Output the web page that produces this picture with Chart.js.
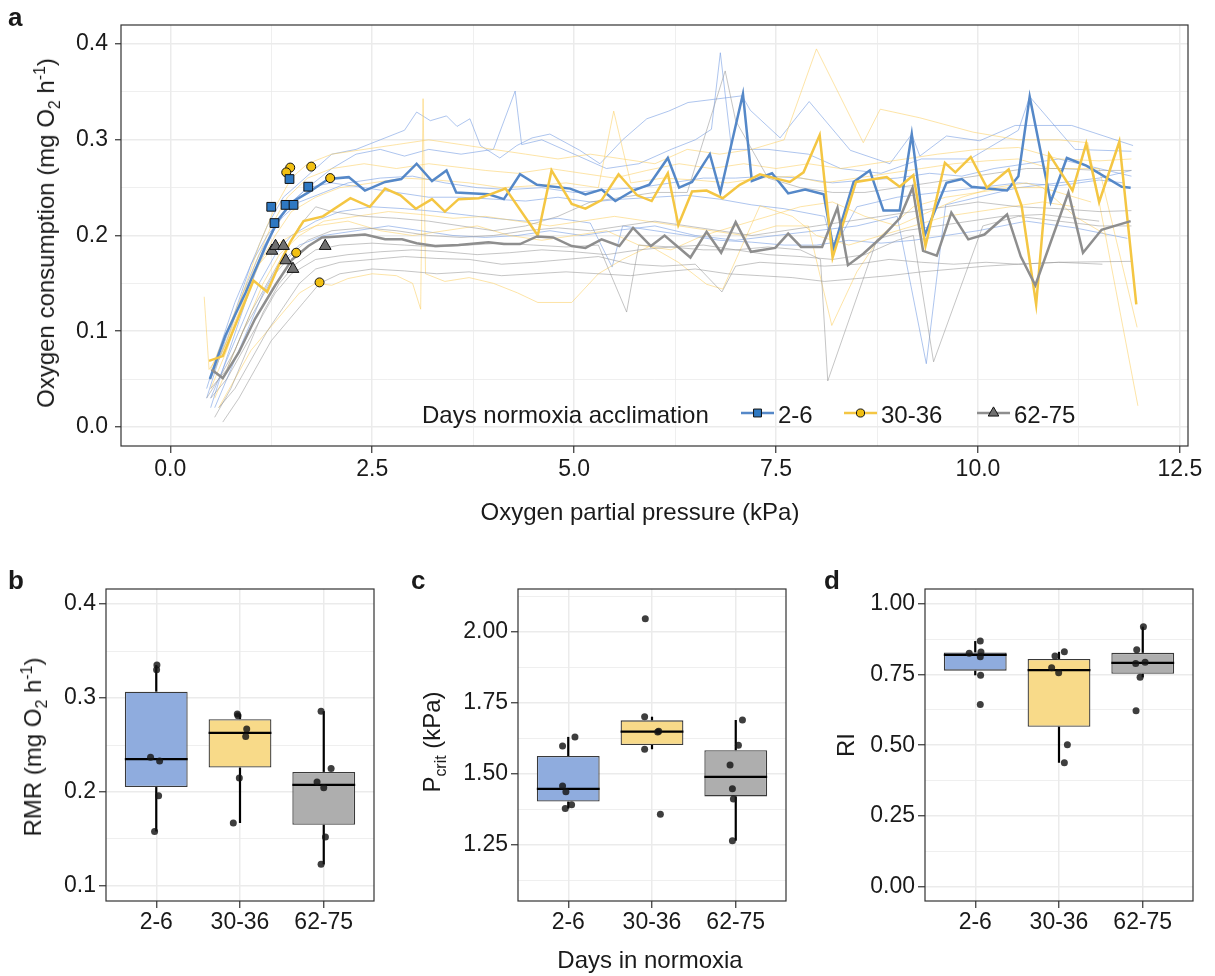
<!DOCTYPE html>
<html>
<head>
<meta charset="utf-8">
<script src="https://cdn.jsdelivr.net/npm/chart.js@4.4.1/dist/chart.umd.min.js"></script>
<style>
  body { margin: 0; background: #fff; font-family: "Liberation Sans", Arial, sans-serif; color: #1a1a1a; }
  #fig { position: relative; width: 1215px; height: 976px; overflow: hidden; }
  .chart { position: absolute; }
  .lbl { position: absolute; font-weight: bold; font-size: 26px; line-height: 1; }
  .ttl { position: absolute; font-size: 24px; line-height: 1; white-space: nowrap; transform: translate(-50%, -50%); }
  .ttl.rot { transform: translate(-50%, -50%) rotate(-90deg); }
  sub, sup { font-size: 0.66em; line-height: 0; }
</style>
</head>
<body>
<div id="fig">
  <div class="chart" style="left:0;top:0;width:1215px;height:500px"><canvas id="chartA"></canvas></div>
  <div class="chart" style="left:0;top:560px;width:400px;height:400px"><canvas id="chartB"></canvas></div>
  <div class="chart" style="left:400px;top:560px;width:400px;height:400px"><canvas id="chartC"></canvas></div>
  <div class="chart" style="left:800px;top:560px;width:415px;height:400px"><canvas id="chartD"></canvas></div>

  <div class="lbl" style="left:8px;top:4px">a</div>
  <div class="lbl" style="left:8px;top:567px">b</div>
  <div class="lbl" style="left:411px;top:567px">c</div>
  <div class="lbl" style="left:824px;top:567px">d</div>

  <div class="ttl rot" style="left:46px;top:233px">Oxygen consumption (mg O<sub>2</sub> h<sup>-1</sup>)</div>
  <div class="ttl" style="left:640px;top:512px">Oxygen partial pressure (kPa)</div>
  <div class="ttl rot" style="left:33px;top:747px">RMR (mg O<sub>2</sub> h<sup>-1</sup>)</div>
  <div class="ttl rot" style="left:432px;top:742px">P<sub>crit</sub> (kPa)</div>
  <div class="ttl rot" style="left:846px;top:745px">RI</div>
  <div class="ttl" style="left:650px;top:960px">Days in normoxia</div>
</div>

<script>
// ---- data --------------------------------------------------------------
const groups = ['2-6', '30-36', '62-75'];

// panel a: mean traces per group [kPa, mg O2 h-1]
const meanBlue = [[0.49,0.050],[0.68,0.095],[0.93,0.140],[1.18,0.189],[1.34,0.217],[1.51,0.235],[1.71,0.245],[1.96,0.259],[2.21,0.261],[2.41,0.247],[2.66,0.256],[2.86,0.259],[3.05,0.275],[3.24,0.257],[3.42,0.268],[3.54,0.245],[3.94,0.243],[4.13,0.238],[4.33,0.264],[4.54,0.253],[4.95,0.249],[5.14,0.243],[5.34,0.248],[5.51,0.236],[5.73,0.247],[5.93,0.253],[6.16,0.281],[6.30,0.250],[6.46,0.256],[6.68,0.285],[6.81,0.245],[7.09,0.348],[7.20,0.257],[7.45,0.265],[7.65,0.244],[7.86,0.248],[8.09,0.243],[8.21,0.186],[8.46,0.256],[8.66,0.268],[8.83,0.226],[9.03,0.226],[9.18,0.306],[9.34,0.200],[9.61,0.255],[9.80,0.259],[9.92,0.251],[10.36,0.247],[10.50,0.262],[10.64,0.345],[10.90,0.235],[11.10,0.281],[11.34,0.273],[11.78,0.251],[11.89,0.250]];
const meanYellow = [[0.48,0.069],[0.65,0.074],[1.03,0.153],[1.20,0.141],[1.34,0.168],[1.49,0.194],[1.65,0.215],[1.89,0.220],[2.23,0.239],[2.47,0.230],[2.66,0.249],[2.85,0.242],[3.04,0.228],[3.24,0.238],[3.40,0.225],[3.57,0.238],[3.82,0.239],[3.96,0.243],[4.15,0.249],[4.55,0.200],[4.72,0.268],[4.97,0.233],[5.14,0.228],[5.34,0.237],[5.55,0.264],[5.78,0.242],[5.96,0.236],[6.16,0.265],[6.29,0.211],[6.46,0.246],[6.64,0.247],[6.84,0.239],[7.05,0.253],[7.30,0.264],[7.48,0.260],[7.67,0.256],[7.84,0.266],[8.04,0.305],[8.20,0.177],[8.49,0.256],[8.87,0.261],[9.03,0.251],[9.20,0.263],[9.35,0.189],[9.59,0.276],[9.72,0.266],[9.91,0.282],[10.11,0.250],[10.38,0.269],[10.54,0.231],[10.72,0.128],[10.88,0.285],[11.17,0.247],[11.34,0.296],[11.50,0.235],[11.75,0.298],[11.96,0.128]];
const meanGray = [[0.51,0.060],[0.65,0.051],[0.85,0.078],[1.05,0.113],[1.30,0.148],[1.51,0.175],[1.71,0.189],[1.88,0.198],[2.08,0.199],[2.41,0.201],[2.66,0.196],[2.87,0.196],[3.05,0.192],[3.28,0.189],[3.57,0.190],[3.94,0.193],[4.13,0.191],[4.33,0.191],[4.54,0.199],[4.74,0.198],[4.97,0.189],[5.14,0.187],[5.34,0.196],[5.56,0.189],[5.73,0.208],[5.95,0.189],[6.12,0.200],[6.44,0.177],[6.64,0.204],[6.82,0.182],[7.00,0.214],[7.19,0.183],[7.49,0.187],[7.65,0.202],[7.81,0.188],[8.07,0.188],[8.26,0.229],[8.39,0.169],[8.58,0.181],[8.83,0.200],[9.03,0.218],[9.19,0.250],[9.32,0.184],[9.49,0.179],[9.67,0.224],[9.88,0.196],[10.08,0.201],[10.36,0.222],[10.53,0.178],[10.71,0.148],[11.12,0.245],[11.30,0.182],[11.53,0.206],[11.89,0.215]];

// panel a: individual traces
const blueInd1 = [[0.45,0.03],[0.6,0.07],[0.8,0.12],[1.0,0.17],[1.2,0.21],[1.4,0.24],[1.6,0.255],[1.8,0.27],[2.0,0.285],[2.3,0.29],[2.6,0.3],[2.9,0.31],[3.05,0.329],[3.22,0.32],[3.42,0.325],[3.55,0.314],[3.71,0.322],[3.84,0.294],[4.08,0.281],[4.29,0.294],[4.48,0.302],[4.7,0.306],[5.07,0.289],[5.32,0.275],[5.6,0.3],[5.9,0.322],[6.17,0.33],[6.41,0.339],[7.08,0.346],[7.18,0.331],[7.55,0.302],[7.91,0.34],[8.42,0.289],[8.91,0.275],[9.18,0.306],[9.28,0.283],[9.61,0.304],[10.02,0.299],[10.46,0.315],[11.16,0.315],[11.92,0.294]];
const blueInd2 = [[0.5,0.02],[0.65,0.06],[0.85,0.11],[1.05,0.16],[1.25,0.2],[1.45,0.23],[1.7,0.25],[2.0,0.27],[2.3,0.285],[2.6,0.29],[2.9,0.283],[3.2,0.29],[3.6,0.285],[4.0,0.29],[4.27,0.351],[4.35,0.295],[4.6,0.3],[5.0,0.285],[5.4,0.27],[5.8,0.275],[6.2,0.29],[6.5,0.3],[6.7,0.311],[6.81,0.391],[6.95,0.29],[7.4,0.29],[7.9,0.285],[8.3,0.27],[8.8,0.265],[9.3,0.28],[9.9,0.28],[10.5,0.31],[10.64,0.345],[11.2,0.29],[11.9,0.288]];
const blueInd3 = [[0.45,0.04],[0.6,0.08],[0.8,0.13],[1.0,0.17],[1.2,0.2],[1.4,0.22],[1.6,0.235],[1.9,0.245],[2.2,0.255],[2.6,0.26],[3.0,0.262],[3.4,0.255],[3.8,0.25],[4.2,0.248],[4.6,0.25],[5.0,0.245],[5.4,0.248],[5.8,0.25],[6.2,0.255],[6.6,0.26],[7.0,0.26],[7.4,0.262],[7.8,0.26],[8.2,0.255],[8.6,0.258],[9.0,0.26],[9.4,0.265],[9.8,0.262],[10.2,0.27],[10.6,0.275],[11.0,0.28],[11.5,0.27],[11.9,0.262]];
const blueInd4 = [[0.5,0.03],[0.7,0.07],[0.9,0.11],[1.1,0.15],[1.3,0.18],[1.5,0.2],[1.8,0.215],[2.1,0.225],[2.5,0.23],[2.9,0.228],[3.3,0.225],[3.6,0.222],[4.0,0.218],[4.4,0.215],[4.8,0.218],[5.2,0.213],[5.47,0.167],[5.6,0.21],[6.0,0.205],[6.4,0.2],[6.8,0.195],[7.2,0.193],[7.6,0.19],[8.0,0.19],[8.4,0.195],[8.8,0.192],[9.2,0.195],[9.6,0.2],[10.0,0.205],[10.6,0.215],[11.2,0.208],[11.85,0.197]];
const blueInd5 = [[0.55,0.02],[0.75,0.06],[0.95,0.1],[1.15,0.14],[1.35,0.17],[1.6,0.19],[1.9,0.2],[2.3,0.205],[2.7,0.21],[3.1,0.205],[3.5,0.2],[3.9,0.198],[4.3,0.2],[4.7,0.205],[5.1,0.2],[5.5,0.205],[6.0,0.21],[6.5,0.2],[7.0,0.195],[7.5,0.2],[8.0,0.205],[8.5,0.21],[9.0,0.22],[9.36,0.066],[9.6,0.232],[10.0,0.24],[10.5,0.25],[11.0,0.255],[11.5,0.26],[11.9,0.268]];
const blueInd6 = [[0.5,0.05],[0.7,0.09],[0.9,0.14],[1.1,0.18],[1.3,0.21],[1.5,0.235],[1.7,0.25],[2.0,0.255],[2.4,0.25],[2.8,0.245],[3.2,0.24],[3.6,0.24],[4.0,0.238],[4.4,0.236],[4.8,0.24],[5.2,0.235],[5.6,0.238],[6.0,0.24],[6.4,0.242],[6.8,0.238],[7.2,0.232],[7.6,0.228],[8.1,0.22],[8.21,0.185],[8.5,0.23],[9.0,0.24],[9.5,0.245],[10.0,0.25],[10.5,0.255],[11.0,0.252],[11.5,0.258],[11.8,0.255]];

const yellowInd1 = [[0.5,0.05],[0.7,0.09],[0.9,0.14],[1.1,0.19],[1.3,0.23],[1.5,0.26],[1.7,0.275],[2.0,0.285],[2.4,0.29],[2.8,0.295],[3.2,0.3],[3.6,0.295],[4.0,0.29],[4.4,0.285],[4.8,0.28],[5.2,0.285],[5.6,0.28],[6.0,0.275],[6.4,0.29],[6.8,0.285],[7.2,0.29],[7.6,0.3],[8.0,0.395],[8.58,0.297],[8.79,0.332],[9.28,0.323],[9.94,0.308],[10.5,0.3],[11.0,0.3],[11.36,0.297],[11.98,0.022]];
const yellowInd2 = [[0.42,0.136],[0.48,0.06],[0.65,0.08],[0.85,0.12],[1.05,0.17],[1.25,0.21],[1.45,0.24],[1.7,0.26],[2.0,0.27],[2.4,0.275],[2.8,0.27],[3.2,0.275],[3.5,0.272],[3.9,0.268],[4.3,0.265],[4.7,0.27],[5.1,0.265],[5.5,0.26],[5.9,0.268],[6.3,0.275],[6.7,0.27],[7.1,0.275],[7.5,0.27],[7.9,0.275],[8.3,0.27],[8.7,0.275],[9.1,0.28],[9.5,0.285],[10.0,0.29],[10.5,0.292],[11.0,0.28],[11.5,0.278],[11.9,0.28]];
const yellowInd3 = [[0.5,0.04],[0.7,0.08],[0.9,0.13],[1.1,0.17],[1.3,0.2],[1.5,0.225],[1.8,0.24],[2.1,0.25],[2.5,0.255],[2.9,0.26],[3.3,0.258],[3.7,0.255],[4.1,0.25],[4.5,0.252],[4.9,0.255],[5.3,0.25],[5.49,0.33],[5.7,0.255],[6.1,0.26],[6.5,0.258],[6.9,0.255],[7.3,0.26],[7.7,0.262],[8.1,0.255],[8.5,0.26],[8.9,0.265],[9.3,0.27],[9.7,0.275],[10.1,0.278],[10.5,0.28],[10.9,0.27],[11.5,0.27],[11.97,0.104]];
const yellowInd4 = [[0.55,0.03],[0.75,0.07],[0.95,0.11],[1.15,0.15],[1.35,0.18],[1.6,0.2],[1.9,0.215],[2.3,0.22],[2.7,0.225],[3.1,0.222],[3.5,0.218],[3.9,0.22],[4.3,0.215],[4.7,0.21],[5.1,0.215],[5.5,0.22],[5.9,0.215],[6.3,0.21],[6.7,0.205],[7.1,0.2],[7.5,0.21],[7.9,0.21],[8.19,0.106],[8.5,0.162],[8.8,0.2],[9.2,0.23],[9.6,0.24],[10.0,0.245],[10.4,0.25],[10.8,0.25],[11.2,0.22],[11.6,0.2]];
const yellowInd5 = [[0.6,0.02],[0.8,0.05],[1.0,0.08],[1.2,0.1],[1.4,0.12],[1.6,0.14],[1.8,0.15],[2.0,0.148],[2.2,0.155],[2.5,0.16],[2.8,0.158],[3.0,0.15],[3.1,0.123],[3.13,0.343],[3.16,0.16],[3.4,0.152],[3.7,0.156],[4.0,0.15],[4.3,0.14],[4.55,0.13],[4.97,0.13],[5.3,0.16],[5.6,0.175],[5.94,0.189],[6.29,0.172],[6.64,0.149],[6.84,0.144],[7.3,0.231],[7.7,0.22],[8.0,0.2],[8.4,0.19],[8.8,0.2],[9.2,0.21],[9.6,0.22],[10.0,0.225],[10.4,0.23],[10.8,0.235],[11.2,0.23]];
const yellowInd6 = [[0.5,0.06],[0.7,0.1],[0.9,0.14],[1.1,0.17],[1.3,0.19],[1.5,0.2],[1.8,0.21],[2.2,0.215],[2.6,0.205],[3.0,0.2],[3.4,0.205],[3.8,0.21],[4.2,0.2],[4.6,0.195],[5.0,0.2],[5.4,0.205],[5.8,0.19],[6.2,0.185],[6.6,0.2],[7.0,0.21],[7.4,0.22],[7.8,0.23],[8.2,0.235],[8.6,0.22],[9.0,0.21],[9.4,0.225],[9.8,0.24],[10.2,0.25],[10.6,0.255],[11.0,0.245],[11.4,0.235]];

const grayInd1 = [[0.45,0.03],[0.6,0.05],[0.8,0.08],[1.0,0.12],[1.2,0.15],[1.4,0.18],[1.6,0.21],[1.8,0.23],[2.0,0.225],[2.4,0.22],[2.8,0.218],[3.2,0.215],[3.6,0.21],[4.0,0.205],[4.4,0.21],[4.8,0.22],[5.2,0.235],[5.6,0.24],[6.0,0.245],[6.4,0.245],[6.87,0.372],[7.0,0.32],[7.4,0.26],[7.8,0.25],[8.2,0.245],[8.6,0.245],[9.0,0.25],[9.4,0.255],[9.8,0.26],[10.2,0.265],[10.6,0.27],[11.0,0.27],[11.5,0.268],[11.9,0.268]];
const grayInd2 = [[0.5,0.04],[0.7,0.06],[0.9,0.1],[1.1,0.13],[1.3,0.16],[1.5,0.18],[1.7,0.195],[2.0,0.205],[2.4,0.208],[2.8,0.205],[3.2,0.2],[3.6,0.198],[4.0,0.2],[4.4,0.205],[4.8,0.208],[5.2,0.205],[5.6,0.21],[6.0,0.215],[6.4,0.21],[6.8,0.205],[7.2,0.2],[7.6,0.205],[8.0,0.21],[8.4,0.215],[8.8,0.22],[9.2,0.225],[9.6,0.23],[10.0,0.235],[10.5,0.23],[11.0,0.228],[11.5,0.225],[11.9,0.226]];
const grayInd3 = [[0.55,0.01],[0.75,0.04],[0.95,0.08],[1.15,0.12],[1.35,0.15],[1.55,0.17],[1.8,0.185],[2.1,0.19],[2.5,0.192],[2.9,0.19],[3.3,0.188],[3.7,0.19],[4.1,0.192],[4.5,0.19],[4.9,0.188],[5.3,0.19],[5.65,0.12],[5.8,0.19],[6.2,0.188],[6.6,0.185],[7.0,0.185],[7.4,0.188],[7.8,0.185],[8.05,0.175],[8.14,0.048],[8.75,0.196],[9.1,0.205],[9.5,0.21],[9.9,0.215],[10.3,0.22],[10.8,0.222],[11.5,0.215]];
const grayInd4 = [[0.5,0.03],[0.7,0.05],[0.9,0.08],[1.1,0.11],[1.3,0.14],[1.5,0.16],[1.8,0.175],[2.2,0.18],[2.6,0.183],[3.0,0.185],[3.4,0.183],[3.8,0.18],[4.2,0.182],[4.6,0.185],[5.0,0.183],[5.4,0.18],[5.8,0.185],[6.2,0.188],[6.6,0.19],[7.0,0.185],[7.4,0.18],[7.8,0.178],[8.2,0.175],[8.6,0.18],[9.0,0.195],[9.2,0.2],[9.45,0.068],[10.06,0.21],[10.5,0.22],[11.0,0.215],[11.5,0.21],[11.9,0.21]];
const grayInd5 = [[0.6,0.02],[0.8,0.04],[1.0,0.07],[1.2,0.1],[1.4,0.125],[1.6,0.15],[1.8,0.165],[2.1,0.172],[2.5,0.175],[2.9,0.178],[3.3,0.176],[3.7,0.175],[4.1,0.17],[4.5,0.172],[4.9,0.175],[5.3,0.178],[5.7,0.17],[6.1,0.168],[6.5,0.17],[6.83,0.141],[7.0,0.168],[7.3,0.172],[7.7,0.17],[8.1,0.168],[8.5,0.17],[8.9,0.175],[9.3,0.172],[9.7,0.17],[10.1,0.172],[10.5,0.17],[11.0,0.172],[11.54,0.17]];
const grayInd6 = [[0.65,0.005],[0.85,0.03],[1.05,0.06],[1.25,0.09],[1.45,0.11],[1.65,0.13],[1.85,0.15],[2.1,0.16],[2.5,0.165],[2.9,0.163],[3.3,0.16],[3.7,0.162],[4.1,0.158],[4.5,0.16],[4.9,0.162],[5.3,0.16],[5.7,0.158],[6.1,0.162],[6.5,0.165],[6.9,0.16],[7.3,0.158],[7.7,0.156],[8.1,0.152],[8.5,0.155],[8.9,0.158],[9.3,0.162],[9.7,0.165],[10.1,0.168],[10.5,0.17],[11.0,0.172],[11.9,0.173]];

// panel a: Pcrit points [kPa, mg O2 h-1]
const pcritPtsBlue = [[1.25,0.230],[1.29,0.213],[1.427,0.232],[1.526,0.232],[1.476,0.259],[1.708,0.251]];
const pcritPtsYellow = [[1.485,0.271],[1.436,0.266],[1.745,0.272],[1.98,0.260],[1.559,0.182],[1.848,0.151]];
const pcritPtsGray = [[1.259,0.184],[1.303,0.189],[1.402,0.189],[1.43,0.174],[1.519,0.165],[1.918,0.189]];

// panels b-d: individual values per group and horizontal jitter (in category units)
const rmr = [[0.335,0.330,0.237,0.233,0.196,0.158],[0.283,0.281,0.267,0.259,0.215,0.167],[0.286,0.225,0.2105,0.2045,0.152,0.123]];
const rmrJitter = [[0.008,0.004,-0.068,0.04,0.028,-0.02],[-0.032,-0.024,0.08,0.068,-0.008,-0.08],[-0.032,0.088,-0.08,0,0.02,-0.032]];
const pcrit = [[1.457,1.4375,1.630,1.598,1.391,1.378],[2.045,1.701,1.650,1.647,1.5865,1.358],[1.6895,1.6005,1.531,1.448,1.4117,1.265]];
const pcritJitter = [[-0.068,-0.028,0.08,-0.068,0.04,-0.036],[-0.08,-0.088,0.08,0.068,-0.088,0.1],[0.08,0.032,-0.068,-0.04,-0.028,-0.04]];
const ri = [[0.868,0.825,0.829,0.813,0.747,0.644],[0.830,0.815,0.774,0.756,0.502,0.438],[0.919,0.8375,0.789,0.793,0.740,0.622]];
const riJitter = [[0.06,-0.072,0.068,0.06,0.064,0.06],[0.064,-0.048,-0.088,-0.004,0.1,0.064],[0.008,-0.072,-0.084,0.028,-0.032,-0.08]];

// ---- styling -----------------------------------------------------------
const FONT = '"Liberation Sans", Arial, sans-serif';
const TEXT = '#1a1a1a';
const GRID = '#ebebeb';
const AXIS = '#333333';
const MEAN_COL = ['#5588c8', '#f4c643', '#8e8e8e'];
const THIN_COL = ['rgba(120,158,226,0.6)', 'rgba(252,205,95,0.55)', 'rgba(150,150,150,0.55)'];
const MARK_COL = ['#2e78c2', '#f2c012', '#707070'];
const MARK_STYLE = ['rect', 'circle', 'triangle'];
const MARK_RAD = [6.2, 4.5, 6.8];
const BOX_COL = ['#8facde', '#f8da89', '#aeaeae'];
const BOX_HALF = 0.375;

Chart.defaults.font.family = FONT;
Chart.defaults.color = TEXT;

const pts = arr => arr.map(([x, y]) => ({ x, y }));
const isMult = (v, step) => Math.abs(v / step - Math.round(v / step)) < 1e-6;

// full panel border like theme_bw
const frame = {
  id: 'frame',
  afterDraw(chart) {
    const { ctx, chartArea: a } = chart;
    ctx.save();
    ctx.strokeStyle = AXIS;
    ctx.lineWidth = 1.2;
    ctx.strokeRect(a.left, a.top, a.right - a.left, a.bottom - a.top);
    ctx.restore();
  }
};

function valueAxis(min, max, step, labelStep, digits, opts) {
  return {
    type: 'linear', min, max, offset: false, beginAtZero: false,
    border: { display: false },
    grid: {
      offset: false,
      color: GRID,
      lineWidth: c => (c.tick && isMult(c.tick.value, labelStep)) ? 1.5 : 0.8,
      tickColor: c => (c.tick && isMult(c.tick.value, labelStep)) ? AXIS : 'rgba(0,0,0,0)',
      tickLength: opts.tickLength, tickWidth: 1.2
    },
    ticks: {
      stepSize: step, includeBounds: false, autoSkip: false, maxRotation: 0,
      padding: opts.padding, font: { size: 23 }, color: TEXT,
      callback: v => isMult(v, labelStep) ? v.toFixed(digits) : ''
    },
    afterFit: s => {
      if (opts.width) s.width = opts.width;
      if (opts.height) s.height = opts.height;
      s.paddingLeft = 0; s.paddingRight = 0; s.paddingTop = 0; s.paddingBottom = 0;
    }
  };
}

// legend inside panel a
function drawMarker(ctx, style, x, y, r) {
  ctx.beginPath();
  if (style === 'rect') {
    const s = r * Math.SQRT1_2;
    ctx.rect(x - s, y - s, 2 * s, 2 * s);
  } else if (style === 'circle') {
    ctx.arc(x, y, r, 0, Math.PI * 2);
  } else {
    for (let k = 0; k < 3; k++) {
      const ang = k * 2 * Math.PI / 3;
      const px = x + Math.sin(ang) * r, py = y - Math.cos(ang) * r;
      k === 0 ? ctx.moveTo(px, py) : ctx.lineTo(px, py);
    }
    ctx.closePath();
  }
  ctx.fill();
  ctx.stroke();
}

const legendA = {
  id: 'legendA',
  afterDraw(chart) {
    const { ctx, chartArea: a } = chart;
    const base = a.bottom - 23;
    const mid = a.bottom - 33;
    ctx.save();
    ctx.font = '24px ' + FONT;
    ctx.fillStyle = TEXT;
    ctx.textBaseline = 'alphabetic';
    ctx.fillText('Days normoxia acclimation', a.left + 301, base);
    const starts = [620, 723, 856];
    groups.forEach((g, i) => {
      const x0 = a.left + starts[i];
      ctx.strokeStyle = MEAN_COL[i];
      ctx.lineWidth = 2.5;
      ctx.beginPath(); ctx.moveTo(x0, mid); ctx.lineTo(x0 + 33, mid); ctx.stroke();
      ctx.fillStyle = MARK_COL[i];
      ctx.strokeStyle = '#111';
      ctx.lineWidth = 1;
      drawMarker(ctx, MARK_STYLE[i], x0 + 16.5, mid, MARK_RAD[i] * 0.9);
      ctx.fillStyle = TEXT;
      ctx.fillText(g, x0 + 37, base);
    });
    ctx.restore();
  }
};

// ---- panel a ---------------------------------------------------------------
function thin(data, i) {
  return { data: pts(data), showLine: true, borderColor: THIN_COL[i], borderWidth: 1, pointRadius: 0, order: 3 };
}
function mean(data, i) {
  return { data: pts(data), showLine: true, borderColor: MEAN_COL[i], borderWidth: 2.5, pointRadius: 0, order: 2 };
}
function marks(data, i) {
  return {
    data: pts(data), showLine: false, pointStyle: MARK_STYLE[i], pointRadius: MARK_RAD[i],
    pointBackgroundColor: MARK_COL[i], pointBorderColor: '#111', pointBorderWidth: 1, order: 1
  };
}

new Chart(document.getElementById('chartA'), {
  type: 'scatter',
  data: {
    datasets: [
      marks(pcritPtsBlue, 0), marks(pcritPtsYellow, 1), marks(pcritPtsGray, 2),
      mean(meanGray, 2), mean(meanYellow, 1), mean(meanBlue, 0),
      thin(grayInd1, 2), thin(grayInd2, 2), thin(grayInd3, 2), thin(grayInd4, 2), thin(grayInd5, 2), thin(grayInd6, 2),
      thin(yellowInd1, 1), thin(yellowInd2, 1), thin(yellowInd3, 1), thin(yellowInd4, 1), thin(yellowInd5, 1), thin(yellowInd6, 1),
      thin(blueInd1, 0), thin(blueInd2, 0), thin(blueInd3, 0), thin(blueInd4, 0), thin(blueInd5, 0), thin(blueInd6, 0)
    ]
  },
  options: {
    responsive: true, maintainAspectRatio: false, animation: false, events: [],
    layout: { padding: { top: 25, right: 27, bottom: 14, left: 0 } },
    plugins: { legend: { display: false }, tooltip: { enabled: false } },
    scales: {
      x: valueAxis(-0.61, 12.6, 1.25, 2.5, 1, { tickLength: 7, padding: 3, height: 40 }),
      y: valueAxis(-0.02, 0.42, 0.05, 0.1, 1, { tickLength: 6, padding: 7, width: 121 })
    }
  },
  plugins: [frame, legendA]
});

// ---- panels b-d: box plots -----------------------------------------------
function quantile(sorted, p) {
  const h = (sorted.length - 1) * p;
  const lo = Math.floor(h);
  const hi = Math.min(lo + 1, sorted.length - 1);
  return sorted[lo] + (h - lo) * (sorted[hi] - sorted[lo]);
}
function boxStats(values) {
  const s = values.slice().sort((a, b) => a - b);
  const q1 = quantile(s, 0.25), med = quantile(s, 0.5), q3 = quantile(s, 0.75);
  const iqr = q3 - q1;
  const inside = s.filter(v => v >= q1 - 1.5 * iqr && v <= q3 + 1.5 * iqr);
  return { q1, med, q3, lo: inside[0], hi: inside[inside.length - 1] };
}

function boxPanel(id, values, jitter, yMin, yMax, step, labelStep, digits, yWidth, padRight) {
  const stats = values.map(boxStats);
  const datasets = [{
    data: values.flatMap((vs, i) => vs.map((v, j) => ({ x: i + 1 + jitter[i][j], y: v }))),
    pointRadius: 3.5, pointBackgroundColor: 'rgba(20,20,20,0.82)', pointBorderWidth: 0, order: 1
  }];
  stats.forEach((s, i) => {
    const line = (data, order) => ({ data, showLine: true, borderColor: '#000', borderWidth: 2.2, pointRadius: 0, order });
    datasets.push(line([{ x: i + 1 - BOX_HALF, y: s.med }, { x: i + 1 + BOX_HALF, y: s.med }], 2));
    datasets.push(line([{ x: i + 1, y: s.lo }, { x: i + 1, y: s.q1 }], 4));
    datasets.push(line([{ x: i + 1, y: s.q3 }, { x: i + 1, y: s.hi }], 4));
  });
  datasets.push({
    type: 'bar',
    data: stats.map((s, i) => ({ x: i + 1, y: [s.q1, s.q3] })),
    backgroundColor: BOX_COL, borderColor: '#3a3a3a', borderWidth: 1.3, borderSkipped: false,
    categoryPercentage: 1, barPercentage: 2 * BOX_HALF, order: 3
  });

  new Chart(document.getElementById(id), {
    type: 'scatter',
    data: { datasets },
    options: {
      responsive: true, maintainAspectRatio: false, animation: false, events: [],
      layout: { padding: { top: 29, right: padRight, bottom: 19, left: 0 } },
      plugins: { legend: { display: false }, tooltip: { enabled: false } },
      scales: {
        x: {
          type: 'linear', min: 0.4, max: 3.6, offset: false,
          border: { display: false },
          grid: { offset: false, color: GRID, lineWidth: 1.5, tickColor: AXIS, tickLength: 7, tickWidth: 1.2 },
          ticks: {
            stepSize: 1, includeBounds: false, autoSkip: false, maxRotation: 0, padding: 1,
            font: { size: 23 }, color: TEXT,
            callback: v => groups[Math.round(v) - 1]
          },
          afterFit: s => { s.height = 40; s.paddingLeft = 0; s.paddingRight = 0; }
        },
        y: valueAxis(yMin, yMax, step, labelStep, digits, { tickLength: 7, padding: 3, width: yWidth })
      }
    },
    plugins: [frame]
  });
}

boxPanel('chartB', rmr, rmrJitter, 0.084, 0.416, 0.05, 0.1, 1, 106, 26);
boxPanel('chartC', pcrit, pcritJitter, 1.053, 2.15, 0.125, 0.25, 2, 118, 14);
boxPanel('chartD', ri, riJitter, -0.0505, 1.052, 0.125, 0.25, 2, 125, 22);
</script>
</body>
</html>
